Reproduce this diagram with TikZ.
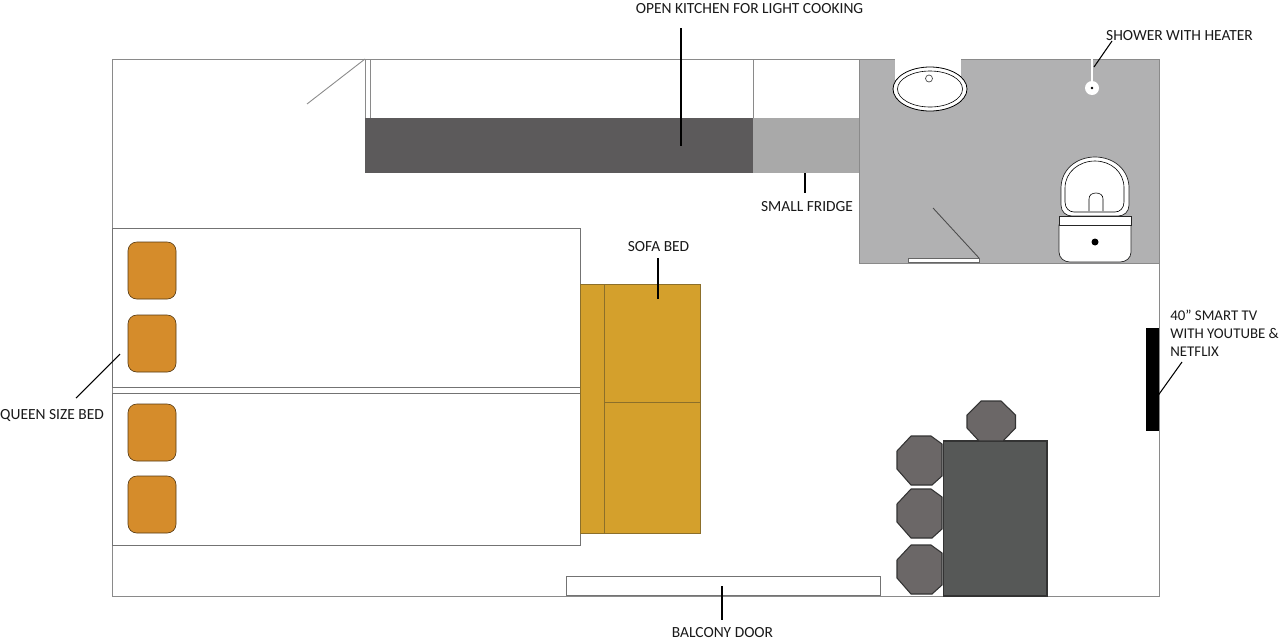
\documentclass[tikz,border=0pt]{standalone}
\usepackage{fontspec}
\setmainfont{Carlito}
\definecolor{wallc}{HTML}{8A8A8A}
\definecolor{bathc}{HTML}{B1B1B2}
\definecolor{kitchenc}{HTML}{5C5A5B}
\definecolor{fridgec}{HTML}{A9A9A9}
\definecolor{pillowc}{HTML}{D58C2B}
\definecolor{sofac}{HTML}{D4A02C}
\definecolor{sofaline}{HTML}{8C6F2A}
\definecolor{tablec}{HTML}{565857}
\definecolor{stoolc}{HTML}{6B6767}
\tikzset{
  wall/.style={draw=wallc,line width=0.55pt},
  bedbox/.style={draw=black!55,line width=0.5pt,fill=white},
  pillow/.style={draw=black!60!pillowc,line width=0.35pt,fill=pillowc,rounded corners=5pt},
  sofabox/.style={draw=sofaline,line width=0.45pt,fill=sofac},
  fixture/.style={draw=black!85,line width=0.4pt,fill=white},
  label/.style={font=\fontsize{8.8}{10.2}\selectfont,text=black!90,inner sep=0pt},
  tvtext/.style={font=\fontsize{8.45}{10.2}\selectfont,text=black!90,inner sep=0pt},
  leader/.style={draw=black,line width=0.6pt},
  stool/.style={draw=black!80,line width=0.6pt,fill=stoolc},
}
\begin{document}
\begin{tikzpicture}[x=0.02cm,y=-0.02cm]
\useasboundingbox (0,0) rectangle (1280,643);
\fill[white] (0,0) rectangle (1280,643);
% room
\draw[wall] (112,59) rectangle (1159,596);
% bathroom
\fill[bathc] (859,59) rectangle (1159,263);
\draw[wall] (859,59) rectangle (1159,263);
% cabinets and door
\draw[wall] (365,59) -- (365,118);
\draw[wall] (370,59) -- (370,118);
\draw[wall] (753,59) -- (753,118);
\draw[wall,line width=0.5pt] (307,104) -- (365,59);
% kitchen
\fill[kitchenc] (365,118) rectangle (753,173);
\fill[fridgec] (753,118) rectangle (859,173);
% beds
\draw[bedbox] (112,228) rectangle (580,387);
\draw[bedbox] (112,393) rectangle (580,545);
\path[pillow] (128,242) rectangle (176,299);
\path[pillow] (128,315) rectangle (176,372);
\path[pillow] (128,404) rectangle (176,461);
\path[pillow] (128,476) rectangle (176,533);
% sofa
\path[sofabox] (580,284) rectangle (604,533);
\path[sofabox] (604,284) rectangle (700,402);
\path[sofabox] (604,402) rectangle (700,533);
% table and stools
\draw[draw=black!80,line width=0.6pt,fill=tablec] (943.5,441) rectangle (1047,596);
\draw[stool] (981,401) -- (1001,401) -- (1015.5,415) -- (1015.5,428) -- (1003,441) -- (979,441) -- (967,428) -- (967,415) -- cycle;
\foreach \y in {436,489,545}{
  \draw[stool] (911,\y) -- (931,\y) -- (942,{\y+8}) -- ({942},{\y+40}) -- (932,{\y+49}) -- (911,{\y+49}) -- (897,{\y+33}) -- (897,{\y+15}) -- cycle;
}
% balcony door and TV
\draw[draw=black!55,fill=white,line width=0.5pt] (566,576) rectangle (880,595);
\fill[black] (1146,328) rectangle (1159,431);
% sink
\fill[white] (895,59) rectangle (961,80);
\draw[draw=black,line width=0.45pt,fill=white] (930,89) ellipse (37 and 22);
\draw[draw=black,line width=0.35pt] (930,89) ellipse (32.5 and 18);
\draw[draw=black!70,line width=0.4pt] (929,78.5) circle (3.5);
% shower
\draw[white,line width=1.3pt] (1092,59) -- (1092,84);
\fill[white] (1092,88) circle (7);
\fill[black] (1092,88) circle (1.3);
% toilet
\draw[fixture] (1061,205) -- (1061,188) .. controls (1061,170) and (1076,157) .. (1095,157) .. controls (1114,157) and (1129,170) .. (1129,188) -- (1129,205) .. controls (1129,212) and (1124,216) .. (1118,216) -- (1072,216) .. controls (1066,216) and (1061,212) .. cycle;
\draw[draw=black,line width=0.35pt] (1065,202) -- (1065,188) .. controls (1065,172) and (1079,161) .. (1095,161) .. controls (1111,161) and (1124,172) .. (1124,188) -- (1124,202) .. controls (1124,208) and (1120,212) .. (1115,212) -- (1074,212) .. controls (1069,212) and (1065,208) .. cycle;
\draw[draw=black,line width=0.35pt] (1089,211) -- (1089,199) .. controls (1089,195) and (1092,193) .. (1096,193) .. controls (1100,193) and (1103,195) .. (1103,199) -- (1103,211);
\draw[fixture] (1059,225) .. controls (1059,222) and (1060,224) .. (1062,224) -- (1128,224) .. controls (1130,224) and (1131,222) .. (1131,225) -- (1131,252) .. controls (1131,258) and (1126,262) .. (1120,262) -- (1070,262) .. controls (1064,262) and (1059,258) .. (1059,252) -- cycle;
\draw[fixture] (1059,216) rectangle (1131,225);
\fill[black] (1095,242) circle (3.5);
% bathroom door
\draw[draw=black!60,line width=0.45pt,fill=white] (908,258) rectangle (979,262);
\draw[draw=black!70,line width=0.5pt] (933,208) -- (979,258);
% labels
\node[label] (kitchenlabel) at (749.5,8.5) {OPEN KITCHEN FOR LIGHT COOKING};
\node[label] (showerlabel) at (1179.5,35.5) {SHOWER WITH HEATER};
\node[label] (fridgelabel) at (807,206.5) {SMALL FRIDGE};
\node[label] (sofalabel) at (658.5,246.5) {SOFA BED};
\node[tvtext,align=left,anchor=west] (tvlabel) at (1170,333) {40” SMART TV\\WITH YOUTUBE \&\\NETFLIX};
\node[label] (bedlabel) at (52,415.5) {QUEEN SIZE BED};
\node[label] (doorlabel) at (722.5,632.5) {BALCONY DOOR};
% leader ends
\coordinate (kitchentop) at (681,28);
\coordinate (kitchenend) at (681,146);
\coordinate (showertop) at (1112,41);
\coordinate (showerend) at (1094,67);
\coordinate (fridgetop) at (805,173);
\coordinate (fridgeend) at (805,193);
\coordinate (sofatop) at (658,258);
\coordinate (sofaend) at (658,299);
\coordinate (tvtop) at (1182,362);
\coordinate (tvend) at (1157,397);
\coordinate (bedtop) at (76,398);
\coordinate (bedend) at (120,354);
\coordinate (doortop) at (722,586);
\coordinate (doorend) at (722,620);
\draw[leader] (kitchentop) -- (kitchenend);
\draw[leader] (showertop) -- (showerend);
\draw[leader] (fridgetop) -- (fridgeend);
\draw[leader] (sofatop) -- (sofaend);
\draw[leader] (tvtop) -- (tvend);
\draw[leader] (bedtop) -- (bedend);
\draw[leader] (doortop) -- (doorend);
\end{tikzpicture}
\end{document}
